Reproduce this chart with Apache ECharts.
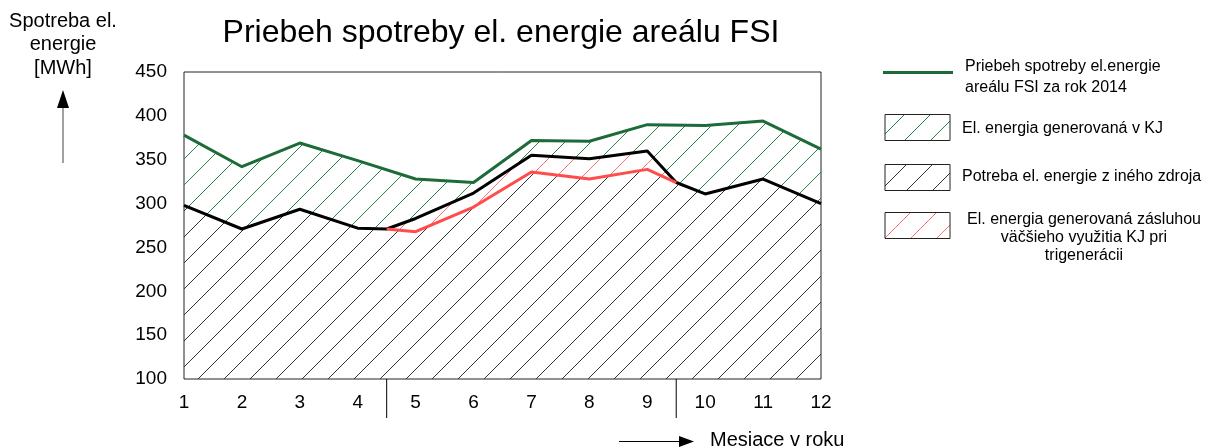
<!DOCTYPE html>
<html>
<head>
<meta charset="utf-8">
<title>Priebeh spotreby el. energie areálu FSI</title>
<script src="https://cdn.jsdelivr.net/npm/echarts@6/dist/echarts.min.js"></script>
<style>
  html, body { margin: 0; padding: 0; background: #fff; }
  #chart { width: 1211px; height: 447px; }
</style>
</head>
<body>
<div id="chart"></div>
<script>
// Monthly values in MWh
const months = [1, 2, 3, 4, 5, 6, 7, 8, 9, 10, 11, 12];
const consumption2014 = [378, 342, 369, 349, 328, 324, 372, 371, 390, 389, 394, 362];

// Demand from another source (KJ running normally); season boundaries at 4.5 and 9.5
const otherSourceMonths = [1, 2, 3, 4, 4.5, 5, 6, 7, 8, 9, 9.5, 10, 11, 12];
const otherSourceNeed = [298, 271, 293.5, 272, 271, 283, 312, 355, 351, 360, 324, 311, 328, 300];

// Demand from another source when KJ is used more thanks to trigeneration
const trigenMonths = [4.5, 5, 6, 7, 8, 9, 9.5];
const trigenNeed = [271, 268, 296, 336, 328, 339, 324];

const seasonBounds = [4.5, 9.5];

const yMin = 100, yMax = 450, yStep = 50;

const GREEN = '#1d6b38';
const RED = '#ff4d4d';
const FONT = '"Liberation Sans", Arial, sans-serif';

// Diagonal hatch tile, lines at x + y = const (mod 26)
function hatch(color) {
  const c = document.createElement('canvas');
  c.width = 26; c.height = 26;
  const g = c.getContext('2d');
  g.strokeStyle = color;
  g.lineWidth = 1;
  g.beginPath();
  for (const k of [5, 31]) { g.moveTo(-4, k + 4); g.lineTo(k + 4, -4); }
  g.stroke();
  return { image: c, repeat: 'repeat' };
}
const hatchGreen = hatch('#2f7d4c');
const hatchBlack = hatch('#333333');
const hatchRed = hatch('#ff7070');

// Lower envelope: other-source line outside the trigeneration window, trigeneration line inside it
const baseX = [], baseY = [];
otherSourceMonths.forEach((x, i) => { if (x < trigenMonths[0]) { baseX.push(x); baseY.push(otherSourceNeed[i]); } });
trigenMonths.forEach((x, i) => { baseX.push(x); baseY.push(trigenNeed[i]); });
otherSourceMonths.forEach((x, i) => { if (x > trigenMonths[trigenMonths.length - 1]) { baseX.push(x); baseY.push(otherSourceNeed[i]); } });

// Other-source line restricted to the trigeneration window
const winX = [], winY = [];
otherSourceMonths.forEach((x, i) => {
  if (x >= trigenMonths[0] && x <= trigenMonths[trigenMonths.length - 1]) { winX.push(x); winY.push(otherSourceNeed[i]); }
});

// Hatched band between an upper and a lower polyline (lower one is walked backwards)
function band(upperX, upperY, lowerX, lowerY, fill) {
  return {
    type: 'custom', z: 1, silent: true, clip: true,
    data: [[upperX[0], upperY[0]]],
    renderItem: (params, api) => {
      const pts = upperX.map((x, i) => api.coord([x, upperY[i]]));
      for (let i = lowerX.length - 1; i >= 0; i--) pts.push(api.coord([lowerX[i], lowerY[i]]));
      return { type: 'polygon', shape: { points: pts }, style: { fill: fill, stroke: null } };
    }
  };
}

function pairs(xs, ys) { return xs.map((x, i) => [x, ys[i]]); }

const chart = echarts.init(document.getElementById('chart'), null, { renderer: 'canvas' });

const legendX = 885, legendW = 65, legendH = 26;

chart.setOption({
  animation: false,
  backgroundColor: '#fff',
  grid: { left: 184, top: 72, right: 390, bottom: 68, show: true, borderColor: '#222', borderWidth: 1, backgroundColor: 'transparent' },
  xAxis: {
    type: 'value', min: 1, max: 12, interval: 1,
    axisLine: { show: false }, axisTick: { show: false }, splitLine: { show: false },
    axisLabel: { fontSize: 19, color: '#000', fontFamily: FONT, margin: 14 }
  },
  yAxis: {
    type: 'value', min: yMin, max: yMax, interval: yStep,
    axisLine: { show: false }, axisTick: { show: false }, splitLine: { show: false },
    axisLabel: { fontSize: 19, color: '#000', fontFamily: FONT, margin: 17 }
  },
  series: [
    band(baseX, baseY, [1, 12], [yMin, yMin], hatchBlack),
    band(winX, winY, trigenMonths, trigenNeed, hatchRed),
    band(months, consumption2014, otherSourceMonths, otherSourceNeed, hatchGreen),
    {
      type: 'line', name: 'Priebeh spotreby', z: 3,
      data: pairs(months, consumption2014),
      symbol: 'none', lineStyle: { color: GREEN, width: 3 }
    },
    {
      type: 'line', name: 'Potreba z iného zdroja', z: 4,
      data: pairs(otherSourceMonths, otherSourceNeed),
      symbol: 'none', lineStyle: { color: '#000', width: 3 }
    },
    {
      type: 'line', name: 'Trigenerácia', z: 5,
      data: pairs(trigenMonths, trigenNeed),
      symbol: 'none', lineStyle: { color: RED, width: 3 }
    },
    {
      // season boundary ticks below the x axis
      type: 'custom', z: 6, silent: true, clip: false,
      data: seasonBounds.map(x => [x, yMin]),
      renderItem: (params, api) => {
        const p = api.coord([api.value(0), api.value(1)]);
        return { type: 'line', shape: { x1: p[0], y1: p[1], x2: p[0], y2: p[1] + 39 }, style: { stroke: '#000', lineWidth: 1 } };
      }
    }
  ],
  graphic: [
    { type: 'text', x: 501, y: 33, style: { text: 'Priebeh spotreby el. energie areálu FSI', font: '32px ' + FONT, fill: '#000', align: 'center', verticalAlign: 'middle' } },
    // y axis name and arrow
    { type: 'text', x: 63, y: 21, style: { text: 'Spotreba el.', font: '20px ' + FONT, fill: '#000', align: 'center', verticalAlign: 'middle' } },
    { type: 'text', x: 63, y: 44.5, style: { text: 'energie', font: '20px ' + FONT, fill: '#000', align: 'center', verticalAlign: 'middle' } },
    { type: 'text', x: 63, y: 68, style: { text: '[MWh]', font: '20px ' + FONT, fill: '#000', align: 'center', verticalAlign: 'middle' } },
    { type: 'line', shape: { x1: 63, y1: 163, x2: 63, y2: 105 }, style: { stroke: '#444', lineWidth: 1 } },
    { type: 'polygon', shape: { points: [[63, 90], [57, 108], [69, 108]] }, style: { fill: '#000' } },
    // x axis name and arrow
    { type: 'line', shape: { x1: 619, y1: 441.5, x2: 682, y2: 441.5 }, style: { stroke: '#000', lineWidth: 1 } },
    { type: 'polygon', shape: { points: [[694, 441.5], [679, 436], [679, 447]] }, style: { fill: '#000' } },
    { type: 'text', x: 710, y: 440, style: { text: 'Mesiace v roku', font: '20px ' + FONT, fill: '#000', align: 'left', verticalAlign: 'middle' } },
    // legend
    { type: 'line', shape: { x1: 883, y1: 72.5, x2: 953, y2: 72.5 }, style: { stroke: GREEN, lineWidth: 3 } },
    { type: 'text', x: 965, y: 67, style: { text: 'Priebeh spotreby el.energie', font: '16px ' + FONT, fill: '#000', align: 'left', verticalAlign: 'middle' } },
    { type: 'text', x: 965, y: 88, style: { text: 'areálu FSI za rok 2014', font: '16px ' + FONT, fill: '#000', align: 'left', verticalAlign: 'middle' } },
    { type: 'rect', shape: { x: legendX, y: 114.5, width: legendW, height: legendH }, style: { fill: hatchGreen, stroke: '#222', lineWidth: 1 } },
    { type: 'text', x: 962, y: 129, style: { text: 'El. energia generovaná v KJ', font: '16px ' + FONT, fill: '#000', align: 'left', verticalAlign: 'middle' } },
    { type: 'rect', shape: { x: legendX, y: 164.5, width: legendW, height: legendH }, style: { fill: hatchBlack, stroke: '#222', lineWidth: 1 } },
    { type: 'text', x: 962, y: 177, style: { text: 'Potreba el. energie z iného zdroja', font: '16px ' + FONT, fill: '#000', align: 'left', verticalAlign: 'middle' } },
    { type: 'rect', shape: { x: legendX, y: 212.5, width: legendW, height: legendH }, style: { fill: hatchRed, stroke: '#222', lineWidth: 1 } },
    { type: 'text', x: 1084, y: 220, style: { text: 'El. energia generovaná zásluhou', font: '16px ' + FONT, fill: '#000', align: 'center', verticalAlign: 'middle' } },
    { type: 'text', x: 1084, y: 238, style: { text: 'väčšieho využitia KJ pri', font: '16px ' + FONT, fill: '#000', align: 'center', verticalAlign: 'middle' } },
    { type: 'text', x: 1084, y: 256, style: { text: 'trigenerácii', font: '16px ' + FONT, fill: '#000', align: 'center', verticalAlign: 'middle' } }
  ]
});
</script>
</body>
</html>
